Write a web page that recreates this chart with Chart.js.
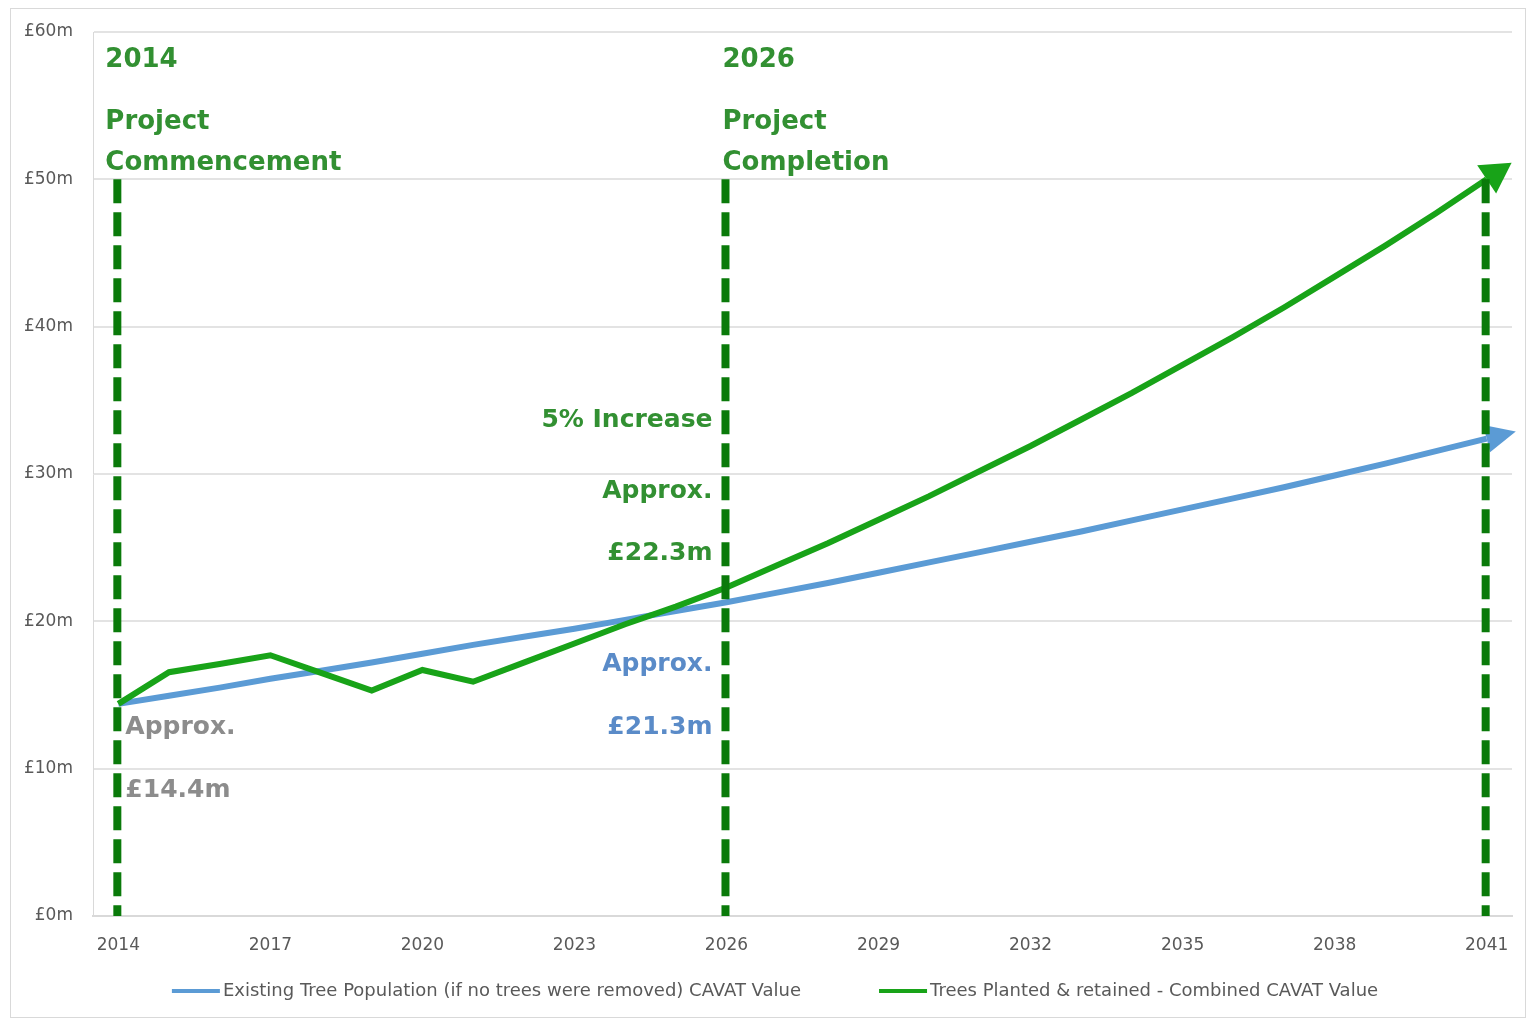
<!DOCTYPE html>
<html>
<head>
<meta charset="utf-8">
<title>CAVAT Value projection</title>
<script src="https://cdn.jsdelivr.net/npm/chart.js@4.4.1/dist/chart.umd.min.js"></script>
<style>
    html, body { margin: 0; padding: 0; background: #ffffff; }
    #wrap {
        position: absolute;
        left: 10px;
        top: 8px;
        width: 1516px;
        height: 1010px;
        border: 1px solid #d9d9d9;
        box-sizing: border-box;
    }
    canvas { display: block; }
</style>
</head>
<body>
<div id="wrap"><canvas id="cavatChart" width="1514" height="1008"></canvas></div>
<script>
// Data
const years = ['2014', '2015', '2016', '2017', '2018', '2019', '2020', '2021', '2022', '2023',
    '2024', '2025', '2026', '2027', '2028', '2029', '2030', '2031', '2032', '2033',
    '2034', '2035', '2036', '2037', '2038', '2039', '2040', '2041'];

// Existing tree population (£m)
const existingValues = [14.4, 14.95, 15.5, 16.1, 16.65, 17.2, 17.8, 18.4, 18.95, 19.5,
    20.1, 20.7, 21.3, 21.95, 22.6, 23.3, 24.0, 24.7, 25.4, 26.1,
    26.85, 27.6, 28.35, 29.1, 29.9, 30.7, 31.55, 32.4];

// Trees planted & retained (£m)
const plantedValues = [14.4, 16.55, 17.1, 17.7, 16.5, 15.3, 16.7, 15.9, 17.2, 18.5,
    19.8, 21.0, 22.3, 23.8, 25.3, 26.9, 28.5, 30.2, 31.9, 33.7,
    35.5, 37.4, 39.3, 41.3, 43.4, 45.5, 47.7, 50.0];

const seriesNames = [
    'Existing Tree Population (if no trees were removed) CAVAT Value',
    'Trees Planted & retained - Combined CAVAT Value'
];

const xTickLabels = ['2014', '2017', '2020', '2023', '2026', '2029', '2032', '2035', '2038', '2041'];
const yTickValues = [0, 10, 20, 30, 40, 50, 60];
const milestoneYears = ['2014', '2026', '2041'];

const BLUE = '#5b9bd5';
const GREEN = '#18a318';
const DASH_GREEN = '#0a7a0a';
const TEXT_GREEN = '#329032';
const TEXT_BLUE = '#5a8bc8';
const TEXT_GREY = '#8c8c8c';
const AXIS_TEXT = '#595959';

// Annotation texts, anchored to a year and a value on the y scale
const notes = [
    { text: '2014', year: '2014', dx: -13, v: 58.1, color: TEXT_GREEN, align: 'left', size: 26 },
    { text: 'Project', year: '2014', dx: -13, v: 53.9, color: TEXT_GREEN, align: 'left', size: 26 },
    { text: 'Commencement', year: '2014', dx: -13, v: 51.1, color: TEXT_GREEN, align: 'left', size: 26 },
    { text: '2026', year: '2026', dx: -4, v: 58.1, color: TEXT_GREEN, align: 'left', size: 26 },
    { text: 'Project', year: '2026', dx: -4, v: 53.9, color: TEXT_GREEN, align: 'left', size: 26 },
    { text: 'Completion', year: '2026', dx: -4, v: 51.1, color: TEXT_GREEN, align: 'left', size: 26 },
    { text: '5% Increase', year: '2026', dx: -14, v: 33.65, color: TEXT_GREEN, align: 'right', size: 25 },
    { text: 'Approx.', year: '2026', dx: -14, v: 28.8, color: TEXT_GREEN, align: 'right', size: 25 },
    { text: '£22.3m', year: '2026', dx: -14, v: 24.6, color: TEXT_GREEN, align: 'right', size: 25 },
    { text: 'Approx.', year: '2026', dx: -14, v: 17.1, color: TEXT_BLUE, align: 'right', size: 25 },
    { text: '£21.3m', year: '2026', dx: -14, v: 12.8, color: TEXT_BLUE, align: 'right', size: 25 },
    { text: 'Approx.', year: '2014', dx: 7, v: 12.8, color: TEXT_GREY, align: 'left', size: 25 },
    { text: '£14.4m', year: '2014', dx: 7, v: 8.55, color: TEXT_GREY, align: 'left', size: 25 }
];

// Arrow heads at the end of each line
function drawArrowHead(ctx, meta, color, length, halfWidth) {
    const pts = meta.data;
    const p1 = pts[pts.length - 2];
    const p2 = pts[pts.length - 1];
    const ang = Math.atan2(p2.y - p1.y, p2.x - p1.x);
    const cos = Math.cos(ang), sin = Math.sin(ang);
    ctx.save();
    ctx.fillStyle = color;
    ctx.beginPath();
    ctx.moveTo(p2.x + cos * length, p2.y + sin * length);
    ctx.lineTo(p2.x - sin * halfWidth, p2.y + cos * halfWidth);
    ctx.lineTo(p2.x + sin * halfWidth, p2.y - cos * halfWidth);
    ctx.closePath();
    ctx.fill();
    ctx.restore();
}

const overlayPlugin = {
    id: 'overlay',
    afterDatasetsDraw(chart) {
        const ctx = chart.ctx;
        const xs = chart.scales.x;
        const ys = chart.scales.y;

        drawArrowHead(ctx, chart.getDatasetMeta(0), BLUE, 30, 14);
        drawArrowHead(ctx, chart.getDatasetMeta(1), GREEN, 30, 17);

        // dashed milestone markers
        ctx.save();
        ctx.strokeStyle = DASH_GREEN;
        ctx.lineWidth = 8;
        ctx.setLineDash([24, 9]);
        milestoneYears.forEach(y => {
            const x = xs.getPixelForValue(years.indexOf(y)) - 1;
            ctx.beginPath();
            ctx.moveTo(x, ys.getPixelForValue(50));
            ctx.lineTo(x, ys.getPixelForValue(0));
            ctx.stroke();
        });
        ctx.restore();

        // annotation texts
        ctx.save();
        ctx.textBaseline = 'middle';
        notes.forEach(n => {
            ctx.font = 'bold ' + n.size + 'px "DejaVu Sans"';
            ctx.fillStyle = n.color;
            ctx.textAlign = n.align;
            ctx.fillText(n.text, xs.getPixelForValue(years.indexOf(n.year)) + n.dx, ys.getPixelForValue(n.v));
        });
        ctx.restore();
    },
    afterDraw(chart) {
        // legend below the axis
        const ctx = chart.ctx;
        const sample = 48, gap = 3, itemGap = 78;
        ctx.save();
        ctx.font = '18px "DejaVu Sans"';
        ctx.textBaseline = 'middle';
        ctx.textAlign = 'left';
        const items = chart.data.datasets.map(ds => ({
            label: ds.label,
            color: ds.borderColor,
            w: sample + gap + ctx.measureText(ds.label).width
        }));
        const total = items.reduce((s, it) => s + it.w, 0) + itemGap * (items.length - 1);
        let x = (chart.width - total) / 2 + 7;
        const y = 982;
        items.forEach(it => {
            ctx.fillStyle = it.color;
            ctx.fillRect(x, y - 2, sample, 4);
            ctx.fillStyle = AXIS_TEXT;
            ctx.fillText(it.label, x + sample + gap, y);
            x += it.w + itemGap;
        });
        ctx.restore();
    }
};

const ctx = document.getElementById('cavatChart').getContext('2d');

new Chart(ctx, {
    type: 'line',
    data: {
        labels: years,
        datasets: [
            {
                label: seriesNames[0],
                data: existingValues,
                borderColor: BLUE,
                backgroundColor: BLUE,
                borderWidth: 6,
                pointRadius: 0,
                tension: 0,
                order: 2
            },
            {
                label: seriesNames[1],
                data: plantedValues,
                borderColor: GREEN,
                backgroundColor: GREEN,
                borderWidth: 6,
                pointRadius: 0,
                tension: 0,
                order: 1
            }
        ]
    },
    options: {
        responsive: false,
        animation: false,
        layout: {
            padding: { top: 23, right: 13, left: 0, bottom: 0 }
        },
        plugins: {
            legend: { display: false },
            tooltip: { enabled: false }
        },
        scales: {
            x: {
                type: 'category',
                offset: true,
                grid: { display: false, drawTicks: false },
                border: { display: true, color: '#d9d9d9', width: 2 },
                ticks: {
                    autoSkip: false,
                    maxRotation: 0,
                    padding: 19,
                    color: AXIS_TEXT,
                    font: { family: 'DejaVu Sans', size: 17 },
                    callback: function (value) {
                        const label = this.getLabelForValue(value);
                        return xTickLabels.includes(label) ? label : '';
                    }
                },
                afterFit: function (scale) {
                    scale.height = 101;
                    scale.paddingLeft = 0;
                    scale.paddingRight = 0;
                }
            },
            y: {
                min: 0,
                max: 60,
                grid: { color: '#e3e3e3', lineWidth: 2, drawTicks: false },
                border: { display: true, color: '#d9d9d9', width: 1 },
                ticks: {
                    padding: 20,
                    color: AXIS_TEXT,
                    font: { family: 'DejaVu Sans', size: 17 },
                    callback: function (value) {
                        return '£' + value + 'm';
                    }
                },
                afterBuildTicks: function (scale) {
                    scale.ticks = yTickValues.map(v => ({ value: v }));
                },
                afterFit: function (scale) {
                    scale.width = 82;
                    scale.paddingTop = 0;
                    scale.paddingBottom = 0;
                }
            }
        }
    },
    plugins: [overlayPlugin]
});
</script>
</body>
</html>
